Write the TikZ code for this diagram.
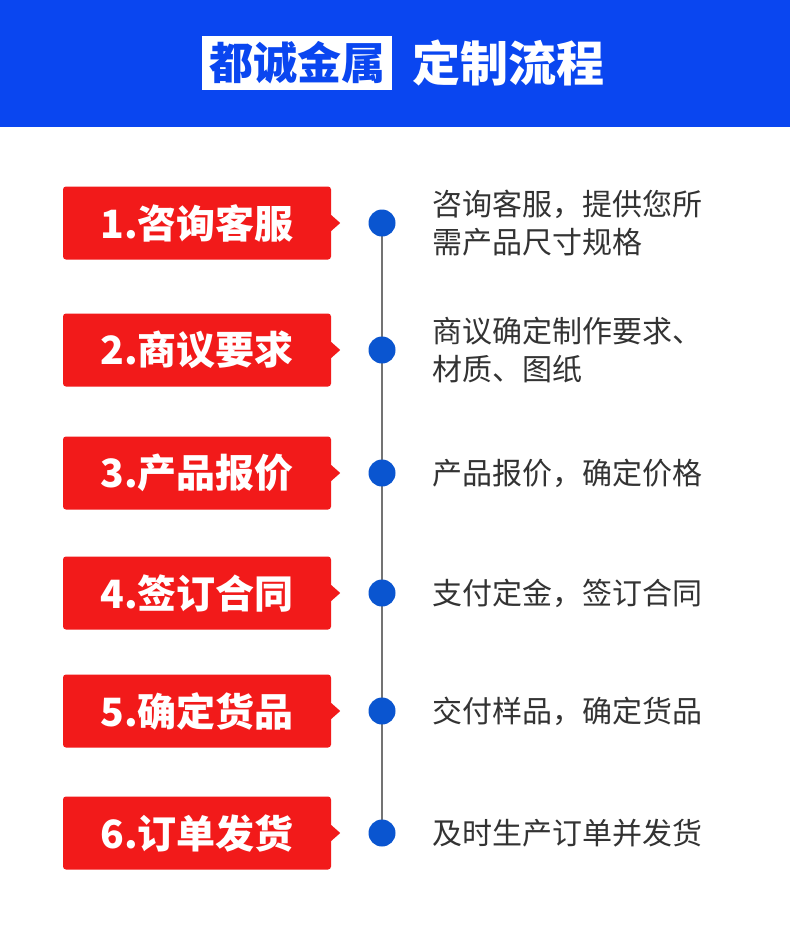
\documentclass[tikz,border=0pt]{standalone}
\usepackage{fontspec}
\setmainfont{Noto Sans CJK SC}
\definecolor{hdr}{HTML}{0A46F0}
\definecolor{stepred}{HTML}{F21A1A}
\definecolor{dotblue}{HTML}{0A55D0}
\definecolor{txt}{HTML}{333333}
\begin{document}
\begin{tikzpicture}[x=1pt,y=-1pt,
  stepbox/.style={fill=stepred,rounded corners=3pt,minimum width=268pt,minimum height=73pt,inner sep=0pt,text=white,font=\fontsize{39}{44}\selectfont\bfseries},
  dot/.style={circle,fill=dotblue,minimum size=27pt,inner sep=0pt},
  desc/.style={anchor=west,text=txt,font=\fontsize{30}{38}\selectfont,align=left,inner sep=0pt}]
\useasboundingbox (0,0) rectangle (790,927);
\fill[white] (0,0) rectangle (790,927);
\fill[hdr] (0,0) rectangle (790,127);
\node[fill=white,text=hdr,minimum width=190pt,minimum height=54pt,inner sep=0pt,font=\fontsize{44}{48}\selectfont\bfseries] (brand) at (297,63) {都诚金属};
\node[text=white,anchor=west,inner sep=0pt,font=\fontsize{48}{52}\selectfont\bfseries] (title) at (412,63) {定制流程};
\coordinate (ltop) at (382,223);
\coordinate (lbot) at (382,833);
\draw[line width=2pt,black!55] (ltop) -- (lbot);
\foreach \i/\y/\lab/\d in {
 1/223/{1.咨询客服}/{咨询客服，提供您所\\需产品尺寸规格},
 2/350/{2.商议要求}/{商议确定制作要求、\\材质、图纸},
 3/473/{3.产品报价}/{产品报价，确定价格},
 4/593/{4.签订合同}/{支付定金，签订合同},
 5/711/{5.确定货品}/{交付样品，确定货品},
 6/833/{6.订单发货}/{及时生产订单并发货}}{
  \node[stepbox] (s\i) at (197,\y) {\lab};
  \fill[stepred] ([yshift=-8pt]s\i.east) -- ([xshift=9pt]s\i.east) -- ([yshift=8pt]s\i.east) -- cycle;
  \node[dot] (d\i) at (382,\y) {};
  \node[desc] (t\i) at (432,\y) {\d};
}
\end{tikzpicture}
\end{document}
